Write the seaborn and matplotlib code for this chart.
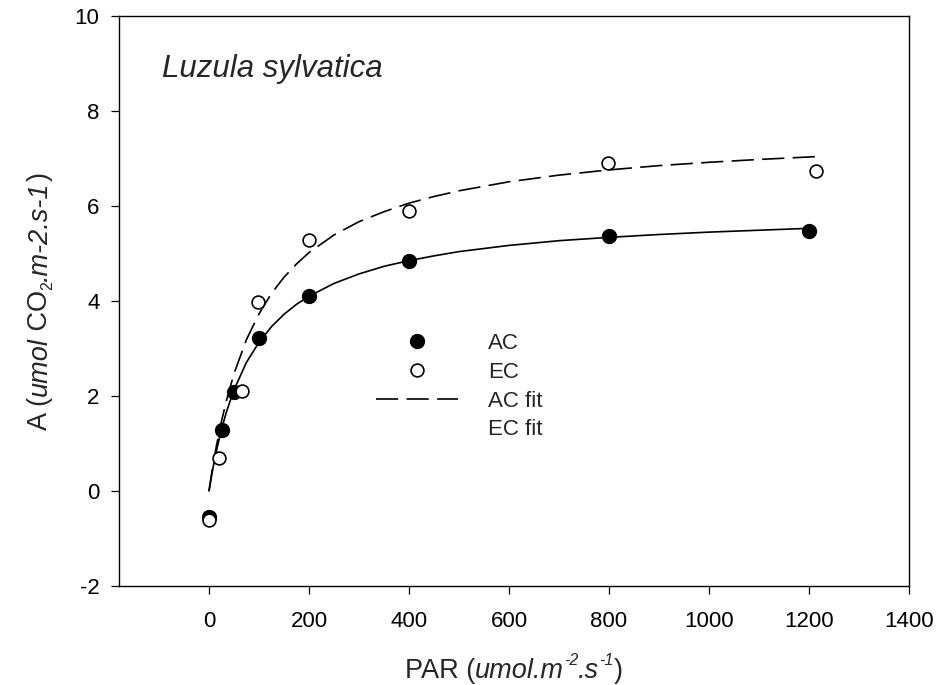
import matplotlib
matplotlib.use("Agg")
import matplotlib.pyplot as plt
from matplotlib.lines import Line2D
from matplotlib.transforms import IdentityTransform
import seaborn as sns
import pandas as pd

# ---- data ----
ac_par = [0, 25, 50, 100, 200, 400, 800, 1200]
ac_a = [-0.55, 1.29, 2.09, 3.23, 4.11, 4.84, 5.37, 5.48]
ec_par = [0, 20, 65, 97, 200, 400, 797, 1215]
ec_a = [-0.60, 0.69, 2.10, 3.98, 5.28, 5.89, 6.90, 6.74]

ac_fit_par = [0, 5, 10, 15, 25, 35, 50, 75, 100, 125, 150, 175, 200, 250, 300, 350, 400,
              450, 500, 600, 700, 800, 900, 1000, 1100, 1200]
ac_fit_a = [0.0, 0.31, 0.60, 0.85, 1.30, 1.67, 2.13, 2.71, 3.13, 3.46, 3.72, 3.93, 4.10,
            4.37, 4.57, 4.73, 4.85, 4.95, 5.04, 5.17, 5.27, 5.34, 5.40, 5.45, 5.49, 5.53]
ec_fit_par = [0, 5, 10, 15, 25, 35, 50, 75, 100, 125, 150, 175, 200, 250, 300, 350, 400,
              450, 500, 600, 700, 800, 900, 1000, 1100, 1215]
ec_fit_a = [0.0, 0.35, 0.67, 0.96, 1.47, 1.91, 2.47, 3.19, 3.73, 4.16, 4.50, 4.78, 5.02,
            5.39, 5.67, 5.88, 6.06, 6.20, 6.32, 6.51, 6.65, 6.76, 6.85, 6.92, 6.98, 7.04]

x_ticks = [0, 200, 400, 600, 800, 1000, 1200, 1400]
y_ticks = [-2, 0, 2, 4, 6, 8, 10]
legend_labels = ["AC", "EC", "AC fit", "EC fit"]
title_text = "Luzula sylvatica"

# ---- style ----
sns.set_style("ticks")
plt.rcParams["font.family"] = ["Liberation Sans", "DejaVu Sans"]
plt.rcParams["lines.scale_dashes"] = False

W, H = 944, 685
fig = plt.figure(figsize=(W / 100, H / 100), dpi=100)
ax = fig.add_axes([119 / W, 99 / H, 790 / W, 570 / H])

ac_df = pd.DataFrame({"PAR": ac_par, "A": ac_a})
ec_df = pd.DataFrame({"PAR": ec_par, "A": ec_a})
acf_df = pd.DataFrame({"PAR": ac_fit_par, "A": ac_fit_a})
ecf_df = pd.DataFrame({"PAR": ec_fit_par, "A": ec_fit_a})

dash = (0, (16, 6))
sns.lineplot(data=acf_df, x="PAR", y="A", color="black", lw=1.2, ax=ax,
             estimator=None, sort=False, zorder=2)
sns.lineplot(data=ecf_df, x="PAR", y="A", color="black", lw=1.2, ax=ax,
             estimator=None, sort=False, linestyle=dash, zorder=2)
sns.scatterplot(data=ac_df, x="PAR", y="A", color="black", edgecolor="black",
                s=100, linewidth=1, ax=ax, zorder=3)
sns.scatterplot(data=ec_df, x="PAR", y="A", color="white", edgecolor="black",
                s=85, linewidth=1.2, ax=ax, zorder=4)

ax.set_xlim(-180, 1400)
ax.set_ylim(-2, 10)
ax.set_xticks(x_ticks)
ax.set_yticks(y_ticks)
ax.set_xticklabels([str(v) for v in x_ticks])
ax.set_yticklabels([str(v) for v in y_ticks])
ax.tick_params(axis="both", direction="out", length=6, width=0.9,
               labelsize=16, top=False, right=False, colors="black")
ax.tick_params(axis="x", pad=12)
ax.tick_params(axis="y", pad=8)
for s in ax.spines.values():
    s.set_linewidth(1.0)
    s.set_color("black")
    s.set_visible(True)
ax.set_xlabel("")
ax.set_ylabel("")

ax.text(-93, 8.72, title_text, style="italic", fontsize=22.5, va="baseline", ha="left")

# ---- composed axis labels (super/subscripts) ----
renderer = fig.canvas.get_renderer()


def compose(pieces, anchor, center, rotation):
    made = []
    for s, size, style, dy in pieces:
        t = fig.text(0, 0, s, fontsize=size, style=style, transform=IdentityTransform(),
                     ha="left", va="baseline", rotation=rotation, rotation_mode="anchor")
        bb = t.get_window_extent(renderer)
        w = bb.width if rotation == 0 else bb.height
        made.append((t, dy, w))
    total = sum(m[2] for m in made)
    pos = center - total / 2
    for t, dy, w in made:
        if rotation == 0:
            t.set_position((pos, anchor + dy))
        else:
            t.set_position((anchor - dy, pos))
        pos += w


LS = 19.5
SS = 11.5
compose([("PAR (", LS, "normal", 0), ("umol.m", LS, "italic", 0), ("-2", SS, "italic", 13),
         (".s", LS, "italic", 0), ("-1", SS, "italic", 13), (")", LS, "normal", 0)],
        anchor=H - 678, center=513.5, rotation=0)
compose([("A (", LS, "normal", 0), ("umol", LS, "italic", 0), (" CO", LS, "normal", 0),
         ("2", SS, "normal", -5), (".m-2.s-1", LS, "italic", 0), (")", LS, "normal", 0)],
        anchor=47, center=H - 301, rotation=90)

handles = [
    Line2D([], [], marker="o", ls="none", markerfacecolor="black", markeredgecolor="black", markersize=10),
    Line2D([], [], marker="o", ls="none", markerfacecolor="white", markeredgecolor="black",
           markersize=9.2, markeredgewidth=1.2),
    Line2D([], [], color="black", lw=1.2, ls=dash),
    Line2D([], [], ls="none"),
]
ax.legend(handles, legend_labels, loc="upper left",
          bbox_to_anchor=(376 / W, (H - 333) / H), bbox_transform=fig.transFigure,
          frameon=False, fontsize=16, handlelength=3.7, handletextpad=1.35,
          labelspacing=0.35, borderpad=0, borderaxespad=0, numpoints=1)

fig.savefig("out.png", dpi=100)
